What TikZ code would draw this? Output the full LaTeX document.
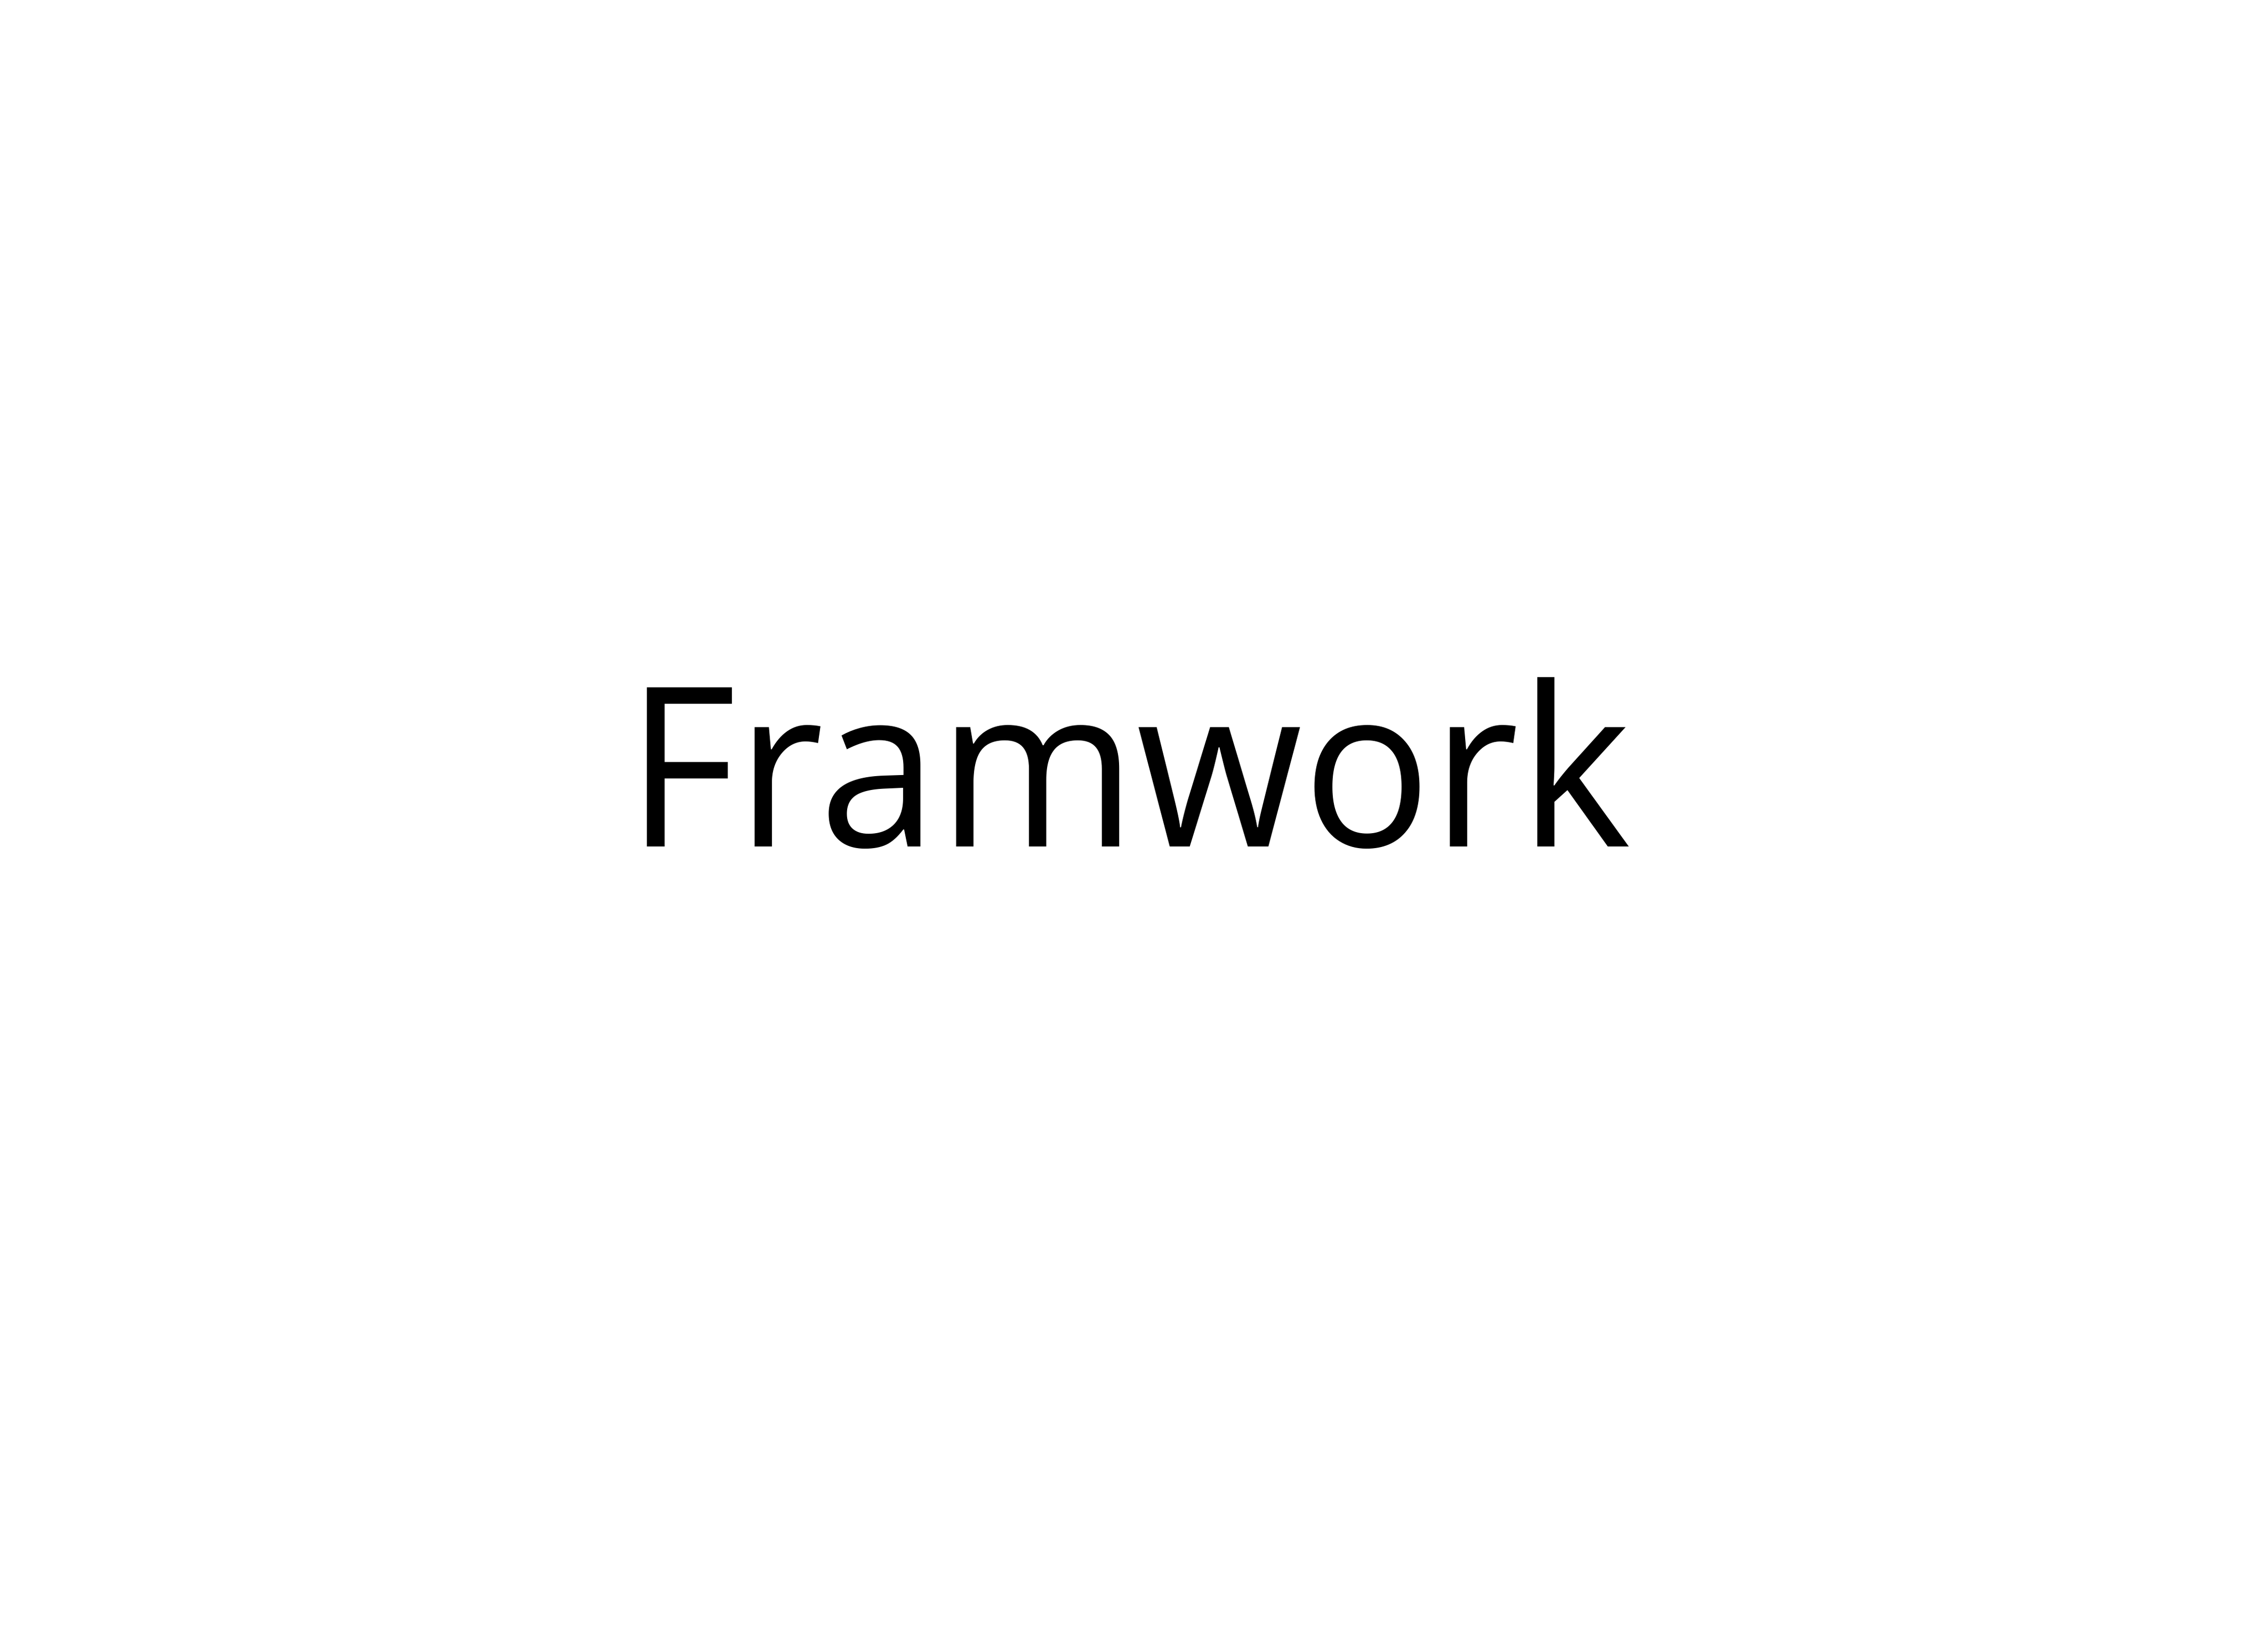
\documentclass[tikz,border=0pt]{standalone}
\usepackage{fontspec}
\setmainfont{Open Sans}
\newfontfamily\titlefont[FakeStretch=0.958]{Open Sans}
\begin{document}
\begin{tikzpicture}[x=1cm,y=1cm,
  titletext/.style={inner sep=0pt, anchor=base, font=\titlefont\fontsize{119}{143}\selectfont}]
\useasboundingbox (0,0) rectangle (42.54,30.70);
\fill[white] (0,0) rectangle (42.54,30.70);
\node[titletext] (title) at (21.17,14.81) {Framwork};
\end{tikzpicture}
\end{document}
